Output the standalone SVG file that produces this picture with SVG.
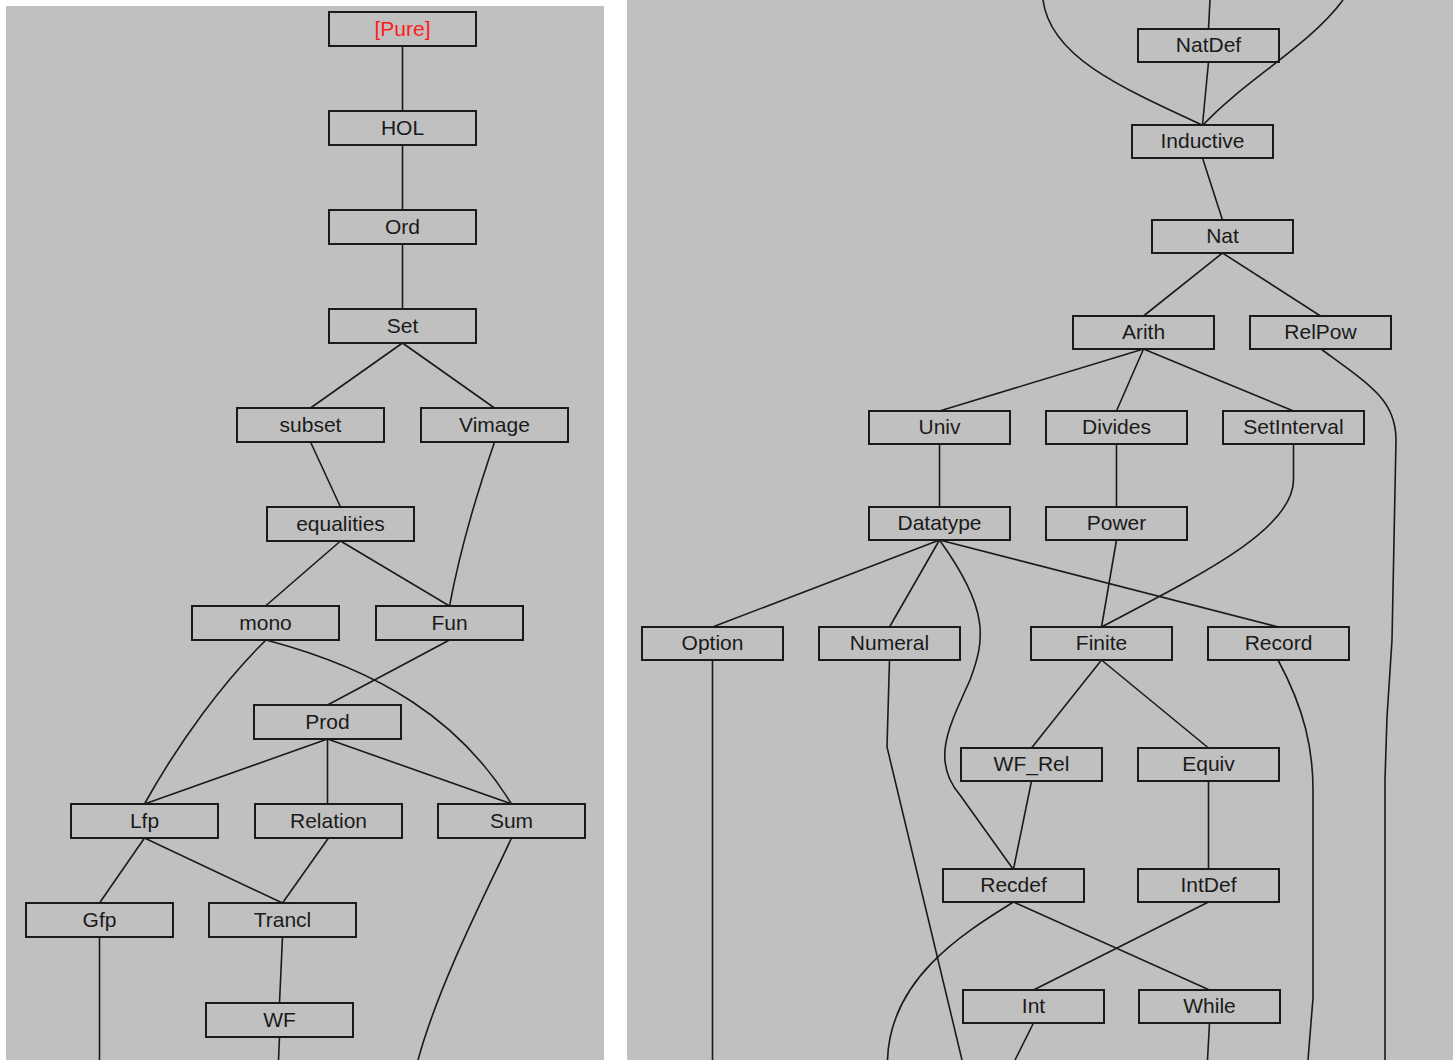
<svg xmlns="http://www.w3.org/2000/svg" width="1453" height="1060" viewBox="0 0 1453 1060">
<style>
.bg{fill:#c0c0c0}
.n rect{fill:none;stroke:#1a1a1a;stroke-width:2}
.n text{font-family:"Liberation Sans",Arial,sans-serif;font-size:21px;fill:#1a1a1a;text-anchor:middle}
.n text.red{fill:#ff1a1a}
#edges path{fill:none;stroke:#1a1a1a;stroke-width:1.6}
</style>
<rect x="0" y="0" width="1453" height="1060" fill="#ffffff"/>
<rect class="bg" x="6" y="6" width="598" height="1054"/>
<rect class="bg" x="627" y="0" width="826" height="1060"/>
<g id="edges">
<path d="M402.5,46 V111"/>
<path d="M402.5,145 V210"/>
<path d="M402.5,244 V309"/>
<path d="M402.5,343 L310.5,408"/>
<path d="M402.5,343 L494.5,408"/>
<path d="M310.5,442 L340.5,507"/>
<path d="M494.5,442 C480,485 462,540 449.5,606"/>
<path d="M340.5,541 L265.5,606"/>
<path d="M340.5,541 L449.5,606"/>
<path d="M266,640 C225,680 180,740 144.5,804"/>
<path d="M266,640 C380,670 460,720 511.5,804"/>
<path d="M449.5,640 L327.5,705"/>
<path d="M327.5,739 L144.5,804"/>
<path d="M327.5,739 V804"/>
<path d="M327.5,739 L511.5,804"/>
<path d="M144.5,838 L99.5,903"/>
<path d="M144.5,838 L282.5,903"/>
<path d="M328.5,838 L282.5,903"/>
<path d="M511.5,838 C490,885 440,980 418,1060"/>
<path d="M99.5,937 V1060"/>
<path d="M282.5,937 L279.5,1003"/>
<path d="M279.5,1037 L278.5,1060"/>
<path d="M1210,0 L1208.5,29"/>
<path d="M1043,0 C1050,55 1115,85 1202,125"/>
<path d="M1343,0 C1310,45 1245,80 1203,125"/>
<path d="M1208.5,62 L1202.5,125"/>
<path d="M1202.5,158 L1222.5,220"/>
<path d="M1222.5,253 L1143.5,316"/>
<path d="M1222.5,253 L1320.5,316"/>
<path d="M1143.5,349 L939.5,411"/>
<path d="M1143.5,349 L1116.5,411"/>
<path d="M1143.5,349 L1293.5,411"/>
<path d="M1321,349 C1370,385 1396,400 1396,440 L1392,640 L1387,717 L1385,780 V1060"/>
<path d="M939.5,444 V507"/>
<path d="M1116.5,444 V507"/>
<path d="M1293.5,444 V480 C1293,530 1200,575 1101.5,627"/>
<path d="M939.5,540 L712.5,627"/>
<path d="M939.5,540 L889.5,627"/>
<path d="M939.5,540 C990,610 985,640 970,680 C950,725 930,760 960,795 L1013,869"/>
<path d="M939.5,540 L1278.5,627"/>
<path d="M1116.5,540 L1101.5,627"/>
<path d="M712.5,660 V1060"/>
<path d="M889.5,660 L887,747 L962,1060"/>
<path d="M1101.5,660 L1031.5,748"/>
<path d="M1101.5,660 L1208.5,748"/>
<path d="M1278,660 C1305,710 1313,750 1313,790 V998 L1308,1060"/>
<path d="M1031.5,781 L1013.5,869"/>
<path d="M1208.5,781 V869"/>
<path d="M1013.5,902 C960,935 890,980 887.5,1060"/>
<path d="M1013.5,902 L1209.5,990"/>
<path d="M1208.5,902 L1033.5,990"/>
<path d="M1033.5,1023 L1015,1060"/>
<path d="M1209.5,1023 L1207.5,1060"/>
</g>
<g id="n-pure" class="n"><rect x="329" y="12" width="147" height="34"/><text class="red" x="402.5" y="36">[Pure]</text></g>
<g id="n-hol" class="n"><rect x="329" y="111" width="147" height="34"/><text x="402.5" y="135">HOL</text></g>
<g id="n-ord" class="n"><rect x="329" y="210" width="147" height="34"/><text x="402.5" y="234">Ord</text></g>
<g id="n-set" class="n"><rect x="329" y="309" width="147" height="34"/><text x="402.5" y="333">Set</text></g>
<g id="n-subset" class="n"><rect x="237" y="408" width="147" height="34"/><text x="310.5" y="432">subset</text></g>
<g id="n-vimage" class="n"><rect x="421" y="408" width="147" height="34"/><text x="494.5" y="432">Vimage</text></g>
<g id="n-equalities" class="n"><rect x="267" y="507" width="147" height="34"/><text x="340.5" y="531">equalities</text></g>
<g id="n-mono" class="n"><rect x="192" y="606" width="147" height="34"/><text x="265.5" y="630">mono</text></g>
<g id="n-fun" class="n"><rect x="376" y="606" width="147" height="34"/><text x="449.5" y="630">Fun</text></g>
<g id="n-prod" class="n"><rect x="254" y="705" width="147" height="34"/><text x="327.5" y="729">Prod</text></g>
<g id="n-lfp" class="n"><rect x="71" y="804" width="147" height="34"/><text x="144.5" y="828">Lfp</text></g>
<g id="n-relation" class="n"><rect x="255" y="804" width="147" height="34"/><text x="328.5" y="828">Relation</text></g>
<g id="n-sum" class="n"><rect x="438" y="804" width="147" height="34"/><text x="511.5" y="828">Sum</text></g>
<g id="n-gfp" class="n"><rect x="26" y="903" width="147" height="34"/><text x="99.5" y="927">Gfp</text></g>
<g id="n-trancl" class="n"><rect x="209" y="903" width="147" height="34"/><text x="282.5" y="927">Trancl</text></g>
<g id="n-wf" class="n"><rect x="206" y="1003" width="147" height="34"/><text x="279.5" y="1027">WF</text></g>
<g id="n-natdef" class="n"><rect x="1138" y="29" width="141" height="33"/><text x="1208.5" y="52">NatDef</text></g>
<g id="n-inductive" class="n"><rect x="1132" y="125" width="141" height="33"/><text x="1202.5" y="148">Inductive</text></g>
<g id="n-nat" class="n"><rect x="1152" y="220" width="141" height="33"/><text x="1222.5" y="243">Nat</text></g>
<g id="n-arith" class="n"><rect x="1073" y="316" width="141" height="33"/><text x="1143.5" y="339">Arith</text></g>
<g id="n-relpow" class="n"><rect x="1250" y="316" width="141" height="33"/><text x="1320.5" y="339">RelPow</text></g>
<g id="n-univ" class="n"><rect x="869" y="411" width="141" height="33"/><text x="939.5" y="434">Univ</text></g>
<g id="n-divides" class="n"><rect x="1046" y="411" width="141" height="33"/><text x="1116.5" y="434">Divides</text></g>
<g id="n-setinterval" class="n"><rect x="1223" y="411" width="141" height="33"/><text x="1293.5" y="434">SetInterval</text></g>
<g id="n-datatype" class="n"><rect x="869" y="507" width="141" height="33"/><text x="939.5" y="530">Datatype</text></g>
<g id="n-power" class="n"><rect x="1046" y="507" width="141" height="33"/><text x="1116.5" y="530">Power</text></g>
<g id="n-option" class="n"><rect x="642" y="627" width="141" height="33"/><text x="712.5" y="650">Option</text></g>
<g id="n-numeral" class="n"><rect x="819" y="627" width="141" height="33"/><text x="889.5" y="650">Numeral</text></g>
<g id="n-finite" class="n"><rect x="1031" y="627" width="141" height="33"/><text x="1101.5" y="650">Finite</text></g>
<g id="n-record" class="n"><rect x="1208" y="627" width="141" height="33"/><text x="1278.5" y="650">Record</text></g>
<g id="n-wfrel" class="n"><rect x="961" y="748" width="141" height="33"/><text x="1031.5" y="771">WF_Rel</text></g>
<g id="n-equiv" class="n"><rect x="1138" y="748" width="141" height="33"/><text x="1208.5" y="771">Equiv</text></g>
<g id="n-recdef" class="n"><rect x="943" y="869" width="141" height="33"/><text x="1013.5" y="892">Recdef</text></g>
<g id="n-intdef" class="n"><rect x="1138" y="869" width="141" height="33"/><text x="1208.5" y="892">IntDef</text></g>
<g id="n-int" class="n"><rect x="963" y="990" width="141" height="33"/><text x="1033.5" y="1013">Int</text></g>
<g id="n-while" class="n"><rect x="1139" y="990" width="141" height="33"/><text x="1209.5" y="1013">While</text></g>
</svg>
